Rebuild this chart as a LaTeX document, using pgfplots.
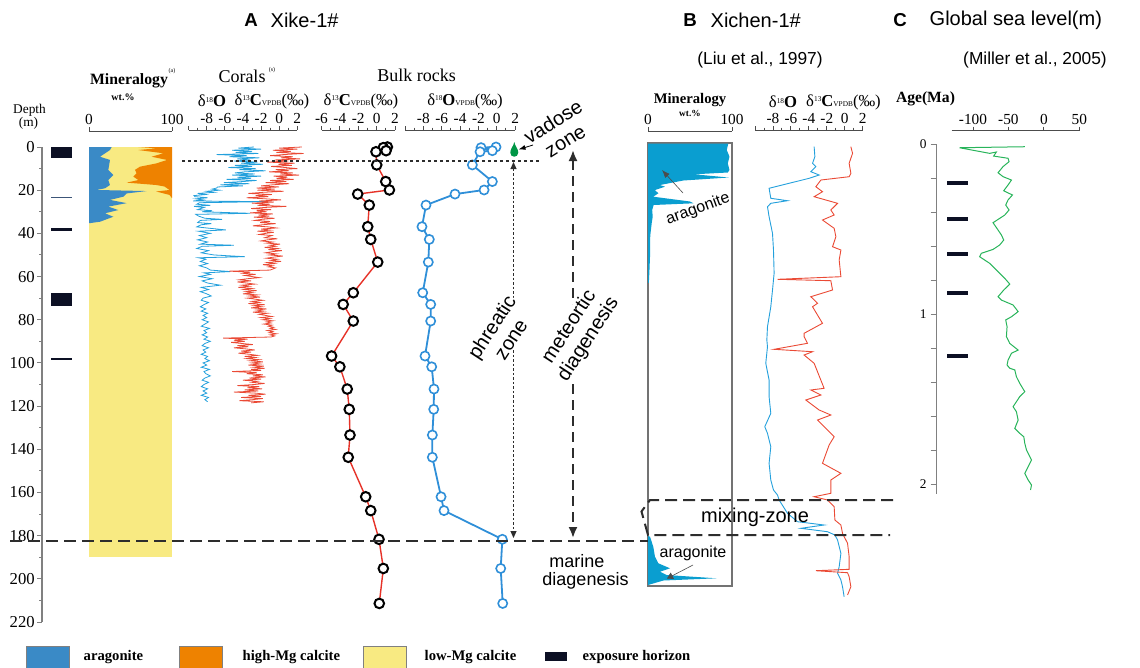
\documentclass[border=0pt]{standalone}
\usepackage{fontspec}
\setmainfont{Liberation Serif}
\newfontfamily\sans{Liberation Sans}
\usepackage{pgfplots}
\pgfplotsset{compat=1.18}
\usetikzlibrary{arrows.meta}
\newdimen\px \px=0.75pt
\definecolor{arag}{RGB}{58,138,198}
\definecolor{hmg}{RGB}{238,130,0}
\definecolor{lmg}{RGB}{248,234,130}
\definecolor{expo}{RGB}{12,16,36}
\definecolor{expoline}{RGB}{60,85,120}
\definecolor{cblue}{RGB}{35,160,220}
\definecolor{cred}{RGB}{234,74,53}
\definecolor{bblue}{RGB}{47,143,216}
\definecolor{bred}{RGB}{230,50,40}
\definecolor{xarag}{RGB}{10,158,208}
\definecolor{slgreen}{RGB}{40,180,90}
\definecolor{dropgreen}{RGB}{0,150,70}
\definecolor{dgray}{RGB}{45,45,45}
\pgfdeclareplotmark{drop}{%
  \pgfpathmoveto{\pgfqpoint{0pt}{6pt}}%
  \pgfpathcurveto{\pgfqpoint{0.5pt}{3pt}}{\pgfqpoint{3pt}{1pt}}{\pgfqpoint{3pt}{-2pt}}%
  \pgfpathcurveto{\pgfqpoint{3pt}{-6pt}}{\pgfqpoint{-3pt}{-6pt}}{\pgfqpoint{-3pt}{-2pt}}%
  \pgfpathcurveto{\pgfqpoint{-3pt}{1pt}}{\pgfqpoint{-0.5pt}{3pt}}{\pgfqpoint{0pt}{6pt}}%
  \pgfpathclose\pgfusepathqfill}
\newcommand\sups[1]{\raisebox{0.6ex}{\fontsize{5.5}{6}\selectfont #1}}
\newcommand\vpdb{{\fontsize{5.5}{6}\selectfont VPDB}}
\pgfplotsset{
  dax/.style={scale only axis, hide axis, clip=false, y dir=reverse, anchor=north west},
  sax/.style={scale only axis, anchor=north west, height=8\px, ymin=0, ymax=1,
    axis x line*=top, axis y line=none, ytick=\empty, tick align=outside,
    major tick length=4\px, minor tick length=2.5\px,
    axis line style={draw=black!70, line width=1\px},
    every tick/.style={black!70, line width=0.9\px},
    xticklabel style={font=\fontsize{11.5}{12}\selectfont, inner sep=1.5pt}, clip=false},
}
\begin{document}
\begin{tikzpicture}[x=0.75pt,y=-0.75pt]
\useasboundingbox (0,0) rectangle (1140,668);
\coordinate (dA) at (42,147);
\coordinate (mA) at (89,147);
\coordinate (smA) at (89,131);
\coordinate (cA) at (188.6,147);
\coordinate (scA) at (188.6,130);
\coordinate (bcA) at (321.5,147);
\coordinate (sbcA) at (321.5,130);
\coordinate (boA) at (405,147);
\coordinate (sboA) at (405,130);
\coordinate (mB) at (648,143);
\coordinate (smB) at (648,131);
\coordinate (iB) at (755,143);
\coordinate (siB) at (755,130);
\coordinate (aC) at (936.7,144);
\coordinate (dC) at (951.7,144);
\coordinate (sC) at (951.7,130.7);

% ---------------- depth axis A ----------------
\begin{axis}[scale only axis, anchor=north west, at={(dA)}, width=40\px, height=475\px,
  xmin=0, xmax=40, ymin=0, ymax=220, y dir=reverse, axis y line*=left, axis x line=none,
  xtick=\empty, ytick={0,20,...,220}, minor y tick num=1, tick align=outside,
  major tick length=5\px, minor tick length=3\px,
  axis line style={draw=gray, line width=1.2\px}, every tick/.style={gray, line width=1\px},
  yticklabel style={font=\fontsize{12.5}{13}\selectfont, inner sep=1.5pt}, clip=false,
  /pgf/number format/assume math mode=true]
\addplot[fill=expo, draw=none] coordinates {(9,0.2)(30,0.2)(30,5)(9,5)} -- cycle;
\addplot[color=expoline, line width=1.5\px] coordinates {(9,23.3)(30,23.3)};
\addplot[fill=expo, draw=none] coordinates {(9,37.4)(30,37.4)(30,39)(9,39)} -- cycle;
\addplot[fill=expo, draw=none] coordinates {(9,67.5)(30,67.5)(30,73.8)(9,73.8)} -- cycle;
\addplot[color=expo, line width=2\px] coordinates {(9,98.3)(30,98.3)};
\end{axis}

% ---------------- mineralogy A ----------------
\begin{axis}[dax, at={(mA)}, width=83\px, height=475\px, xmin=0, xmax=100, ymin=0, ymax=220]
\addplot[fill=lmg, draw=none] coordinates {(0,0)(100,0)(100,190)(0,190)} -- cycle;
\addplot[fill=hmg, draw=none] coordinates {(100,0)(59.4,0)(81.5,0.6)(59.4,1.4)(89.6,2.9)(75.5,4.5)(94,6)(81,7.6)(61.4,9.1)(55.4,10.6)(57.4,12.2)(53.4,13.7)(59.4,15.3)(45.4,16.5)(81,17.6)(91,18.3)(97,19.9)(81,20.6)(97,22.2)(100,23.7)} -- cycle;
\addplot[fill=arag, draw=none] coordinates {(0,0)(27.3,0)(25.3,1.4)(13.3,4.5)(25.3,6)(23.3,10.6)(29.3,13)(23.3,15.3)(25.3,17.6)(19.3,19.1)(9.2,19.9)(69.5,20.4)(45.4,21.5)(41.4,23)(25.3,24.5)(45.4,26)(23.3,27.6)(35.3,29.2)(19.3,30.7)(29.3,32.3)(13.3,34.6)(0.4,35.3)(0,35.3)} -- cycle;
\end{axis}
\begin{axis}[sax, at={(smA)}, width=83\px, xmin=0, xmax=100, xtick={0,100}, xticklabels={0,100}]
\end{axis}

% ---------------- corals ----------------
\begin{axis}[dax, at={(cA)}, width=108.7\px, height=475\px, xmin=-10, xmax=2, ymin=0, ymax=220]
\addplot[color=cblue, line width=0.8\px] table[x index=1, y index=0] {
0 -2.8
0.5 -4.5
1 -2.0
1.5 -5.2
2 -3.0
2.5 -4.8
3 -2.3
3.5 -6.9
4 -3.6
4.5 -5.5
5 -2.2
5.5 -4.6
6 -3.2
6.5 -5.0
7 -2.4
7.5 -4.2
8 -1.8
8.5 -4.9
9 -3.0
9.5 -5.6
10 -2.6
10.5 -4.4
11 -1.5
11.5 -3.8
12 -4.9
12.5 -2.7
13 -5.2
13.5 -2.0
14 -4.6
14.5 -3.1
15 -5.8
15.5 -2.5
16 -4.0
16.5 -6.1
17 -3.3
17.5 -6.5
18 -4.0
18.5 -6.8
19 -6.9
19.5 -7.4
20 -6.6
20.5 -8.0
21 -7.2
21.5 -9.0
22 -8.1
22.5 -9.4
23 -9.3
23.5 -7.9
24 -9.2
24.5 -8.4
25 -9.5
25.3 -1.4
25.8 -8.8
26.5 -9.1
27 -7.6
27.5 -9.4
28 -8.3
29 -9.0
29.5 -7.4
30 -8.5
30.7 -3.2
31.2 -9.2
32 -8.9
33 -8.2
33.5 -6.3
34 -8.7
35 -9.0
35.5 -7.5
36 -8.6
37 -9.1
37.5 -8.0
38.4 -5.9
39 -8.9
40 -7.6
41 -8.8
42 -8.0
43 -9.0
44 -7.9
45 -8.7
45.5 -5.0
46 -8.5
47 -9.1
48 -7.8
49 -8.6
50 -7.2
50.8 -3.8
51.3 -8.9
52 -8.1
53 -8.7
54 -7.9
55 -8.8
56 -8.0
57 -7.6
57.7 -5.4
58.3 -8.3
59 -7.6
60 -8.8
61 -7.4
62 -8.5
63 -7.9
64 -6.5
65 -8.6
66 -7.8
67 -8.7
68 -8.0
69 -7.5
70 -8.4
71 -8.6
72 -7.8
73 -8.3
74 -8.7
75 -8.1
76 -8.6
77 -7.9
78 -8.4
79 -8.0
80 -8.5
81 -7.8
82 -8.2
83 -8.6
84 -7.7
85 -8.3
86 -8.0
87 -8.5
88 -7.9
89 -8.3
90 -7.6
91 -8.2
92 -8.5
93 -7.8
94 -8.4
95 -8.1
96 -8.6
97 -7.9
98 -8.2
99 -7.7
100 -8.4
101 -8.0
102 -8.6
103 -7.7
104 -8.3
105 -8.1
106 -7.6
107 -8.2
108 -8.5
109 -7.8
110 -8.3
111 -8.6
112 -7.9
113 -8.4
114 -8.0
115 -8.6
116 -7.8
117 -8.2
118 -7.9
};
\addplot[color=cred, line width=0.8\px] table[x index=1, y index=0] {
0 2.5
0.5 0.0
1 2.0
1.5 -0.7
2 1.3
2.5 -0.3
3 2.7
3.5 0.5
4 -1.0
4.5 1.5
5 0.2
5.5 2.3
6 -0.5
6.5 1.0
7 -1.3
7.5 1.7
8 -0.1
8.5 1.4
9 -0.9
9.5 0.7
10 2.0
10.5 -0.4
11 1.1
11.5 -1.1
12 1.5
12.5 0.1
13 2.2
13.5 -0.6
14 0.9
14.5 -0.3
15 1.6
15.5 -1.0
16 0.8
16.5 -1.5
17 1.1
17.5 -0.7
18 -2.0
18.5 0.0
19 -2.5
19.5 -0.5
20 -2.4
20.5 0.5
21 -1.8
21.5 -3.4
22 -0.8
22.5 -2.6
23 -1.2
23.5 -3.6
24 -1.5
24.5 0.2
25 -2.2
25.5 -0.6
26 -3.0
26.5 -1.0
27 -2.4
27.5 0.8
28 -1.6
28.5 -3.1
29 -0.9
29.5 -2.5
30 -1.4
30.5 -3.2
31 -0.7
31.5 -2.3
32 -1.1
32.5 -2.8
33 -0.5
33.5 -1.9
34 -2.7
34.5 -1.0
35 -2.1
35.5 -0.4
36 -1.8
36.5 -2.9
37 -1.2
37.5 -0.3
38 -2.0
38.5 -1.0
39 -2.4
39.5 -0.6
40 -1.5
40.5 -2.2
41 -0.8
42 -1.6
42.5 -0.2
43 -1.3
43.5 -2.0
44 -0.7
44.5 -1.4
45 0.1
45.5 -1.0
46 -0.4
46.5 -1.6
47 -0.2
47.5 -1.2
48 0.3
48.5 -0.8
49 -1.5
49.5 -0.3
50 -1.1
50.5 0.4
51 -0.6
51.5 -1.4
52 -0.2
52.5 -0.9
53 0.2
53.5 -1.3
54 -0.5
54.5 -1.8
55 -0.7
55.5 -1.2
56 -0.4
57 -1.0
57.5 -5.5
58 -3.2
58.5 -4.0
59 -2.6
59.5 -3.8
60 -3.0
60.5 -2.2
61 -3.5
61.5 -4.4
62 -3.1
62.5 -4.6
63 -3.6
63.5 -2.7
64 -4.1
64.5 -3.3
65 -4.5
65.5 -3.0
66 -3.9
66.5 -2.5
67 -3.7
67.5 -2.9
68 -4.0
68.5 -2.4
69 -3.3
69.5 -2.1
70 -3.5
70.5 -2.6
71 -1.8
71.5 -3.0
72 -2.2
72.5 -3.4
73 -1.6
73.5 -2.8
74 -1.9
74.5 -3.1
75 -1.4
75.5 -2.5
76 -1.7
76.5 -2.9
77 -1.3
77.5 -2.2
78 -1.5
78.5 -0.8
79 -2.0
79.5 -1.0
80 -1.8
80.5 -0.7
81 -1.4
81.5 -0.9
82 -1.7
82.5 -0.8
83 -1.2
83.5 -0.6
84 -1.0
84.5 -0.4
85 -1.3
85.5 -0.7
86 -1.1
86.5 -0.3
87 -1.0
87.5 -0.5
88 -0.9
88.5 -6.2
89 -3.5
89.5 -5.0
90 -3.8
90.5 -5.3
91 -4.1
91.5 -2.9
92 -4.6
92.5 -3.4
93 -5.0
93.5 -3.7
94 -2.7
94.5 -4.2
95 -3.1
95.5 -4.5
96 -3.3
96.5 -2.4
97 -3.8
97.5 -2.6
98 -3.6
98.5 -2.2
99 -3.2
99.5 -1.8
100 -3.0
100.5 -2.1
101 -3.4
101.5 -1.7
102 -2.8
102.5 -1.6
103 -3.1
103.5 -2.0
104 -5.2
104.5 -2.5
105 -3.6
105.5 -1.8
106 -2.9
106.5 -1.5
107 -3.3
107.5 -2.0
108 -4.0
108.5 -2.4
109 -3.0
109.5 -1.6
110 -2.7
110.5 -4.6
111 -2.2
111.5 -3.5
112 -1.9
112.5 -3.8
113 -2.3
113.5 -5.0
114 -2.6
114.5 -1.5
115 -3.4
115.5 -2.0
116 -4.2
116.5 -1.8
117 -2.9
117.5 -4.4
118 -1.7
118.5 -3.1
};
\end{axis}
\begin{axis}[sax, at={(scA)}, width=108.7\px, xmin=-10, xmax=2, xtick={-10,-8,...,2},
  xticklabels={{},-8,-6,-4,-2,0,2}, minor x tick num=1]
\end{axis}

% ---------------- bulk C ----------------
\begin{axis}[dax, at={(bcA)}, width=73.5\px, height=475\px, xmin=-6, xmax=2, ymin=0, ymax=220]
\addplot[color=bred, line width=1.4\px, mark=*, mark size=4.8\px,
  mark options={draw=black, fill=white, line width=2\px}] coordinates {
(1.17,0)(0.73,0.3)(1.03,1.7)(-0.07,2.2)(0.01,8.3)(0.99,16)(1.39,19.9)(-2.06,21.8)(-0.8,26.9)(-0.97,36.9)(-0.64,42.8)(0.12,53.3)(-2.54,67.5)(-3.64,72.9)(-2.54,80.6)(-4.9,96.8)(-4.0,101.8)(-3.2,112.1)(-2.98,121.5)(-2.9,133.4)(-3.09,143.7)(-1.19,162)(-0.64,168.4)(0.26,181.7)(0.73,195.2)(0.29,211.4)};
\end{axis}
\begin{axis}[sax, at={(sbcA)}, width=73.5\px, xmin=-6, xmax=2, xtick={-6,-4,...,2},
  xticklabels={-6,-4,-2,0,2}, minor x tick num=1]
\end{axis}

% ---------------- bulk O ----------------
\begin{axis}[dax, at={(boA)}, width=110.1\px, height=475\px, xmin=-10, xmax=2, ymin=0, ymax=220]
\addplot[color=bblue, line width=1.8\px, mark=*, mark size=4.6\px,
  mark options={draw=bblue, fill=white, line width=1.6\px}] coordinates {
(-0.08,0)(-1.71,0.3)(-0.48,1.7)(-1.82,2.2)(-2.66,8.3)(-0.48,16)(-1.38,19.9)(-4.55,21.8)(-7.71,26.9)(-8.15,36.9)(-7.35,42.8)(-7.46,53.3)(-8.07,67.5)(-7.2,72.9)(-7.2,80.6)(-7.82,96.8)(-7.09,101.8)(-6.84,112.1)(-6.87,121.5)(-7.02,133.4)(-7.02,143.7)(-6.07,162)(-5.75,168.4)(0.61,181.7)(0.43,195.2)(0.65,211.4)};
\addplot[only marks, mark=drop, color=dropgreen] coordinates {(1.91,1.4)};
\end{axis}
\begin{axis}[sax, at={(sboA)}, width=110.1\px, xmin=-10, xmax=2, xtick={-10,-8,...,2},
  xticklabels={{},-8,-6,-4,-2,0,2}, minor x tick num=1]
\end{axis}

% ---------------- B mineralogy ----------------
\begin{axis}[scale only axis, anchor=north west, at={(mB)}, width=84\px, height=443\px,
  xmin=0, xmax=100, ymin=143, ymax=586, y dir=reverse, xtick=\empty, ytick=\empty,
  axis line style={draw=black!55, line width=1.3\px}, clip=false]
\addplot[fill=xarag, draw=none] coordinates {(0,143.5)(95.6,143.5)(93.8,150)(97,156.7)(95,163.3)(97,170)(95,172.5)(55,174.3)(96,177.5)(42,180.5)(14.3,185)(20.2,186.7)(8.3,190)(12.3,193.3)(6.3,196.7)(50,201.5)(54,203.3)(6.7,205)(5,210)(5.6,216.7)(4.4,223.3)(3,233.3)(2.4,240)(2.4,256.7)(1.6,273.3)(1,282.7)(0,283)} -- cycle;
\addplot[fill=xarag, draw=none] coordinates {(0,536)(2.4,536.7)(6.3,546.7)(8.3,556.7)(12.3,563.3)(26.2,568.3)(14.3,571.7)(22.2,575)(81.7,578.3)(18.3,580.5)(0,585)} -- cycle;
\end{axis}
\begin{axis}[sax, at={(smB)}, width=84\px, xmin=0, xmax=100, xtick={0,100}, xticklabels={0,100}]
\end{axis}

% ---------------- B isotopes ----------------
\begin{axis}[dax, at={(iB)}, width=107.7\px, height=457\px, xmin=-10, xmax=2, ymin=143, ymax=600]
\addplot[color=cblue, line width=0.9\px] coordinates {
(-3.41,146.7)(-3.33,156.7)(-3.59,163.3)(-3.22,166.7)(-3.78,171.7)(-2.85,175)(-3.97,178.3)(-8.43,188.3)(-8.24,198.3)(-6.38,200.7)(-8.24,203.3)(-8.61,206.7)(-8.43,216.7)(-8.05,233.3)(-7.94,250)(-7.87,273.3)(-8.05,290)(-8.24,306.7)(-8.61,326.7)(-8.68,340)(-8.61,346.7)(-8.8,363.3)(-8.43,380)(-8.43,396.7)(-8.24,413.3)(-8.91,426.7)(-8.61,433.3)(-8.24,446.7)(-8.43,463.3)(-8.24,480)(-7.94,490)(-7.49,495)(-7.31,500)(-6.38,513.3)(-5.26,521.7)(-2.3,525)(-4.89,528.3)(-1.92,531.7)(-1.1,535)(-0.8,540)(-0.43,553.3)(-0.62,566.7)(-0.8,573.3)(-0.43,580)(-0.25,586.7)(-0.07,596.7)};
\addplot[color=cred, line width=0.9\px] coordinates {
(0.68,146.7)(0.87,153.3)(0.49,163.3)(0.68,173.3)(0.49,176.7)(-2.66,180)(-3.22,186.7)(-2.48,191.7)(-3.41,196.7)(-0.8,203.3)(-1.55,210)(-1.18,215)(-2.48,220)(-1.18,228.3)(-0.99,236.7)(-1.36,246.7)(-0.43,250)(-0.62,260)(-0.43,276.7)(-7.49,279.3)(-1.55,280.7)(-1.36,290)(-3.78,296.7)(-3.03,303.3)(-3.59,306.7)(-2.48,323.3)(-4.53,333.3)(-4.53,336.7)(-4.15,343.3)(-7.87,349.3)(-3.59,351.7)(-4.53,355)(-3.41,363.3)(-2.3,388.3)(-3.78,390)(-2.66,395)(-4.34,400)(-2.85,410)(-1.55,415)(-3.03,420)(-1.18,436.7)(-1.74,445)(-2.48,463.3)(-0.43,473.3)(-1.55,480)(-1.55,493.3)(-3.41,496.7)(-1.92,500)(-1.18,506.7)(-1.1,520)(-0.43,525)(-0.25,533.3)(0.31,543.3)(0.49,556.7)(0.49,569.3)(-3.22,570.7)(0.31,572.7)(0.49,576.7)(0.68,586.7)(0.31,595)};
\end{axis}
\begin{axis}[sax, at={(siB)}, width=107.7\px, xmin=-10, xmax=2, xtick={-10,-8,...,2},
  xticklabels={{},-8,-6,-4,-2,0,2}, minor x tick num=1]
\end{axis}

% ---------------- C age axis ----------------
\begin{axis}[scale only axis, anchor=north west, at={(aC)}, width=40\px, height=350.2\px,
  xmin=0, xmax=40, ymin=0, ymax=2.06, y dir=reverse, axis y line*=left, axis x line=none,
  xtick=\empty, ytick={0,1,2}, minor ytick={0.2,0.4,0.6,0.8,1.2,1.4,1.6,1.8},
  tick align=outside, major tick length=6\px, minor tick length=6\px,
  axis line style={draw=gray, line width=1.3\px}, every tick/.style={gray, line width=1\px},
  yticklabel style={font=\fontsize{10}{10}\selectfont, inner sep=3pt}, clip=false,
  /pgf/number format/assume math mode=true]
\addplot[color=expo, line width=4\px] coordinates {(10.3,0.228)(31.6,0.228)};
\addplot[color=expo, line width=4\px] coordinates {(10.3,0.443)(31.6,0.443)};
\addplot[color=expo, line width=4\px] coordinates {(10.3,0.649)(31.6,0.649)};
\addplot[color=expo, line width=4\px] coordinates {(10.3,0.878)(31.6,0.878)};
\addplot[color=expo, line width=4\px] coordinates {(10.3,1.245)(31.6,1.245)};
\end{axis}
\begin{axis}[dax, at={(dC)}, width=127.6\px, height=350.2\px, xmin=-130, xmax=50, ymin=0, ymax=2.06]
\addplot[color=slgreen, line width=1\px] coordinates {
(-26.9,0.016)(-118.9,0.022)(-76.4,0.055)(-67,0.047)(-70.8,0.071)(-50.5,0.084)(-49.1,0.104)(-57.6,0.133)(-64.6,0.169)(-57.6,0.192)(-45.7,0.212)(-50.5,0.241)(-56.6,0.275)(-44.3,0.3)(-50.5,0.329)(-53.8,0.359)(-49.1,0.388)(-55.2,0.418)(-71.7,0.463)(-64.6,0.506)(-59.9,0.535)(-56.6,0.565)(-62.3,0.594)(-71.7,0.62)(-88.2,0.643)(-90.6,0.663)(-76.4,0.702)(-67,0.741)(-55.2,0.79)(-48.1,0.824)(-56.6,0.859)(-64.6,0.898)(-59.9,0.918)(-43.4,0.947)(-36.3,0.986)(-45.7,1.016)(-53.8,1.035)(-51.9,1.075)(-52.8,1.133)(-48.1,1.173)(-36.3,1.212)(-45.7,1.231)(-50.5,1.271)(-51.9,1.3)(-48.1,1.319)(-41,1.329)(-38.7,1.369)(-34,1.408)(-26.9,1.457)(-34,1.486)(-43.4,1.545)(-38.7,1.575)(-36.3,1.624)(-41,1.673)(-34,1.702)(-28.3,1.722)(-26.9,1.761)(-24.5,1.8)(-17.4,1.859)(-22.2,1.898)(-26.9,1.937)(-22.2,1.976)(-17.4,2.006)(-18.8,2.035)};
\end{axis}
\begin{axis}[sax, at={(sC)}, width=127.6\px, xmin=-130, xmax=50, xtick={-100,-50,0,50},
  xticklabels={-100,-50,0,50}]
\end{axis}

% ---------------- annotations ----------------
\draw[dgray, line width=1.05pt, dash pattern=on 2.25pt off 2.25pt] (182,161) -- (540,161);
\draw[dgray, line width=0.7pt, dash pattern=on 1.9pt off 1.5pt,
  {Triangle[length=5.25pt,width=4.5pt]}-{Triangle[length=5.25pt,width=4.5pt]}] (513.5,162) -- (513.5,538);
\draw[dgray, line width=1.5pt, dash pattern=on 7.5pt off 4.5pt,
  {Latex[length=8.25pt,width=6.75pt]}-{Latex[length=8.25pt,width=6.75pt]}] (573,150) -- (573,538);
\draw[dgray, line width=1.5pt, dash pattern=on 9pt off 4.5pt] (10,541) -- (648,541);
\draw[dgray, line width=1.5pt, dash pattern=on 9pt off 4.5pt] (893,500) -- (650,500) -- (641.5,511.5) -- (648,535) -- (890,535);
\draw[black, line width=0.6pt, -{Latex[length=5.25pt,width=3.75pt]}] (533,145) -- (518.5,149.5);
\draw[black!70, line width=0.45pt, -{Latex[length=6pt,width=4.5pt]}] (683,193) -- (662,170);
\draw[black!70, line width=0.45pt, -{Triangle[length=4.5pt,width=5.25pt]}] (693,565) -- (667,578.5);

\node[font=\sans\fontsize{15}{17}\selectfont, rotate=32, align=center] at (559,131) {vadose\\zone};
\node[font=\sans\fontsize{15}{17}\selectfont, rotate=57, align=center, fill=white, inner sep=0.5pt] at (501,333) {phreatic\\zone};
\node[font=\sans\fontsize{15}{17}\selectfont, rotate=57, align=center, fill=white, inner sep=0.5pt] at (579,333) {meteortic\\diagenesis};
\node[font=\sans\fontsize{13.5}{15}\selectfont] at (577,561) {marine};
\node[font=\sans\fontsize{13.5}{15}\selectfont] at (585.5,581) {diagenesis};
\node[font=\sans\fontsize{15}{17}\selectfont] at (755,517) {mixing-zone};
\node[font=\sans\fontsize{12}{14}\selectfont, rotate=20] at (698,209) {aragonite};
\node[font=\sans\fontsize{12}{14}\selectfont] at (693,553) {aragonite};

% titles
\node[font=\sans\bfseries\fontsize{14}{16}\selectfont] at (251,20) {A};
\node[font=\sans\fontsize{15}{17}\selectfont, anchor=west] at (266,20) {Xike-1\#};
\node[font=\sans\bfseries\fontsize{14}{16}\selectfont] at (690,20) {B};
\node[font=\sans\fontsize{15}{17}\selectfont, anchor=west] at (706,20) {Xichen-1\#};
\node[font=\sans\fontsize{13}{15}\selectfont] at (760,60) {(Liu et al., 1997)};
\node[font=\sans\bfseries\fontsize{14}{16}\selectfont] at (900,20) {C};
\node[font=\sans\fontsize{15}{17}\selectfont, anchor=west] at (925,20) {Global sea level(m)};
\node[font=\sans\fontsize{13}{15}\selectfont] at (1035,60) {(Miller et al., 2005)};

% column headers
\node[font=\fontsize{10}{10}\selectfont] at (29.5,110) {Depth};
\node[font=\fontsize{10}{10}\selectfont] at (28.5,123) {(m)};
\node[font=\bfseries\fontsize{11.8}{12}\selectfont] at (129,81) {Mineralogy};
\node[font=\fontsize{4.5}{5}\selectfont] at (172,71) {(a)};
\node[font=\bfseries\fontsize{7.5}{8}\selectfont] at (123,97) {wt.\%};
\node[font=\fontsize{13.5}{14}\selectfont] at (242,76) {Corals};
\node[font=\fontsize{4.5}{5}\selectfont] at (272,70) {(s)};
\node[font=\fontsize{13.5}{14}\selectfont] at (416.5,75) {Bulk rocks};
\node[font=\fontsize{12.5}{13}\selectfont] at (212,101) {δ\sups{18}\textbf{O}};
\node[font=\fontsize{12.5}{13}\selectfont] at (272,101) {δ\sups{13}\textbf{C}\vpdb(‰)};
\node[font=\fontsize{12.5}{13}\selectfont] at (361,101) {δ\sups{13}\textbf{C}\vpdb(‰)};
\node[font=\fontsize{12.5}{13}\selectfont] at (465,101) {δ\sups{18}\textbf{O}\vpdb(‰)};
\node[font=\bfseries\fontsize{11}{11}\selectfont] at (690,100) {Mineralogy};
\node[font=\bfseries\fontsize{7}{7}\selectfont] at (690,113) {wt.\%};
\node[font=\fontsize{12.5}{13}\selectfont] at (783,102) {δ\sups{18}\textbf{O}};
\node[font=\fontsize{12.5}{13}\selectfont] at (843.5,102) {δ\sups{13}\textbf{C}\vpdb(‰)};
\node[font=\bfseries\fontsize{11.7}{12}\selectfont] at (925.5,99) {Age(Ma)};

% legend
\filldraw[fill=arag, draw=black!50, line width=0.6pt] (26,646) rectangle (69,669);
\node[font=\bfseries\fontsize{11}{12}\selectfont, anchor=west] at (79,657) {aragonite};
\filldraw[fill=hmg, draw=black!50, line width=0.6pt] (179,646) rectangle (222,669);
\node[font=\bfseries\fontsize{11}{12}\selectfont, anchor=west] at (238,657) {high-Mg calcite};
\filldraw[fill=lmg, draw=black!50, line width=0.6pt] (363,646) rectangle (406,669);
\node[font=\bfseries\fontsize{11}{12}\selectfont, anchor=west] at (420,657) {low-Mg calcite};
\fill[expo] (545,652) rectangle (567,661);
\node[font=\bfseries\fontsize{11}{12}\selectfont, anchor=west] at (578,657) {exposure horizon};
\end{tikzpicture}
\end{document}
